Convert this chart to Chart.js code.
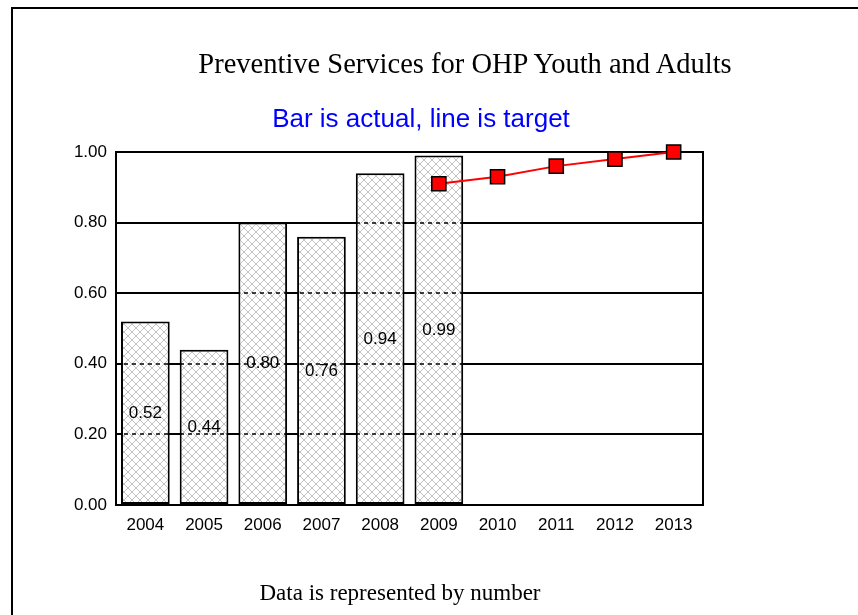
<!DOCTYPE html>
<html>
<head>
<meta charset="utf-8">
<script src="https://cdn.jsdelivr.net/npm/chart.js@4/dist/chart.umd.min.js"></script>
<style>
  html, body { margin: 0; padding: 0; background: #fff; overflow: hidden; }
  #wrap { position: relative; width: 858px; height: 615px; }
  #frame { position: absolute; left: 11px; top: 7px; width: 900px; height: 700px;
           border: 2.5px solid #000; box-sizing: border-box; }
  .txt { position: absolute; white-space: nowrap; transform: translateX(-50%); line-height: 1; }
  #title { left: 465px; top: 48px; font: 28.5px "Liberation Serif", "Times New Roman", serif; color: #000; }
  #subtitle { left: 421px; top: 103px; font: 26px "Liberation Sans", Arial, sans-serif; color: #0000ff; }
  #footer { left: 400px; top: 580px; font: 23px "Liberation Serif", "Times New Roman", serif; color: #000; }
  canvas { position: absolute; left: 0; top: 0; }
</style>
</head>
<body>
<div id="wrap">
  <div id="frame"></div>
  <canvas id="chart" width="858" height="615"></canvas>
  <div class="txt" id="title">Preventive Services for OHP Youth and Adults</div>
  <div class="txt" id="subtitle">Bar is actual, line is target</div>
  <div class="txt" id="footer">Data is represented by number</div>
</div>
<script>
// Years on the category axis
const years = ['2004', '2005', '2006', '2007', '2008', '2009', '2010', '2011', '2012', '2013'];
// Actual rate per year (bars)
const actual = [0.52, 0.44, 0.80, 0.76, 0.94, 0.99, null, null, null, null];
// Target rate per year (line)
const target = [null, null, null, null, null, 0.91, 0.93, 0.96, 0.98, 1.00];
// Value-axis ticks
const yTicks = [0.00, 0.20, 0.40, 0.60, 0.80, 1.00];

const FONT = '"Liberation Sans", Arial, sans-serif';

// Light gray cross-hatch fill for the bars
function hatchPattern() {
  const c = document.createElement('canvas');
  c.width = 8; c.height = 8;
  const g = c.getContext('2d');
  g.fillStyle = '#ffffff';
  g.fillRect(0, 0, 8, 8);
  g.strokeStyle = '#c2c2c2';
  g.lineWidth = 1;
  g.beginPath();
  g.moveTo(0, 0); g.lineTo(8, 8);
  g.moveTo(0, 8); g.lineTo(8, 0);
  g.stroke();
  return g.createPattern(c, 'repeat');
}
const ctx = document.getElementById('chart').getContext('2d');
const hatch = hatchPattern();

// After the bars: dashed gridlines over the hatch, the plot frame and the value labels
const overlay = {
  id: 'overlay',
  afterDatasetDraw(chart, args) {
    if (args.index !== 1) return;
    const c = chart.ctx, a = chart.chartArea, y = chart.scales.y;
    c.save();
    c.strokeStyle = '#000';
    c.lineWidth = 1.5;
    c.setLineDash([4, 4]);
    yTicks.forEach(v => {
      const py = Math.round(y.getPixelForValue(v));
      c.beginPath(); c.moveTo(a.left, py); c.lineTo(a.right, py); c.stroke();
    });
    c.setLineDash([]);
    c.lineWidth = 2;
    c.strokeRect(a.left, a.top, a.right - a.left, a.bottom - a.top);
    c.fillStyle = '#000';
    c.font = '17px ' + FONT;
    c.textAlign = 'center';
    c.textBaseline = 'middle';
    const meta = chart.getDatasetMeta(1);
    meta.data.forEach((bar, i) => {
      const v = actual[i];
      if (v == null) return;
      const top = y.getPixelForValue(v), base = y.getPixelForValue(0);
      c.fillText(v.toFixed(2), bar.x, (top + base) / 2);
    });
    c.restore();
  }
};

new Chart(ctx, {
  data: {
    labels: years,
    datasets: [
      {
        type: 'line',
        label: 'Target',
        data: target,
        order: 0,
        clip: false,
        borderColor: '#ff0000',
        borderWidth: 2,
        pointStyle: 'rect',
        pointRadius: 10,
        pointBackgroundColor: '#ff0000',
        pointBorderColor: '#000',
        pointBorderWidth: 1.5,
        tension: 0,
        spanGaps: false
      },
      {
        type: 'bar',
        label: 'Actual',
        data: actual,
        order: 1,
        backgroundColor: hatch,
        borderColor: '#000',
        borderWidth: 2,
        borderSkipped: false,
        categoryPercentage: 1.0,
        barPercentage: 0.83
      }
    ]
  },
  options: {
    responsive: false,
    animation: false,
    events: [],
    layout: { padding: { left: 0, top: 152, right: 155, bottom: 0 } },
    plugins: { legend: { display: false }, tooltip: { enabled: false }, title: { display: false } },
    scales: {
      x: {
        offset: true,
        grid: { display: false, drawTicks: false },
        border: { display: false },
        ticks: { color: '#000', font: { family: FONT, size: 17 }, padding: 10, maxRotation: 0 },
        afterFit(s) { s.height = 110; }
      },
      y: {
        min: 0,
        max: 1,
        afterBuildTicks(s) { s.ticks = yTicks.map(v => ({ value: v })); },
        grid: { color: '#000', lineWidth: 2, drawTicks: false },
        border: { display: false },
        ticks: {
          color: '#000',
          font: { family: FONT, size: 17 },
          padding: 9,
          callback: v => Number(v).toFixed(2)
        },
        afterFit(s) { s.width = 116; }
      }
    }
  },
  plugins: [overlay]
});
</script>
</body>
</html>
